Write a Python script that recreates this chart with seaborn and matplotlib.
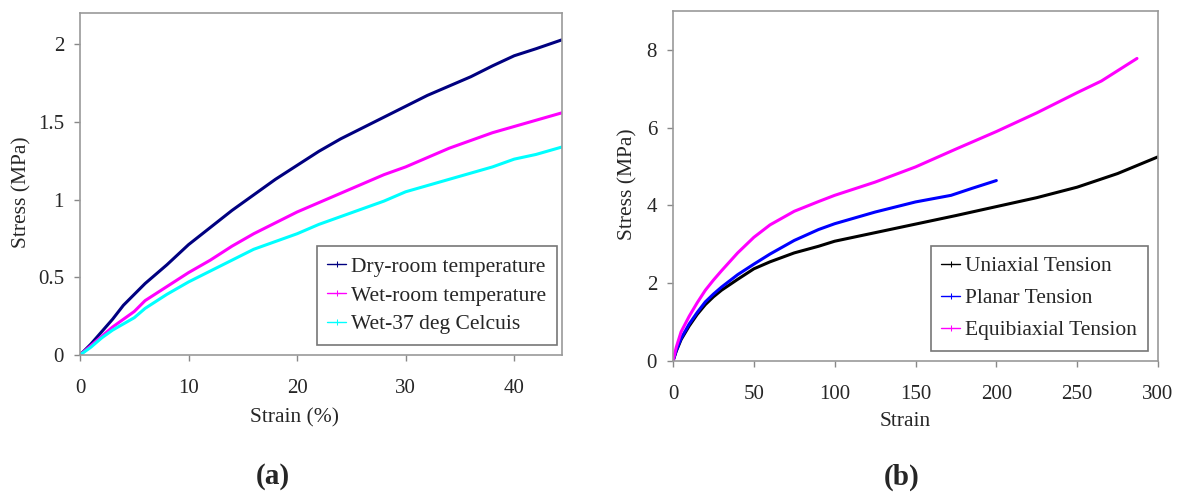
import numpy as np
import pandas as pd
import matplotlib
matplotlib.use("Agg")
import matplotlib.pyplot as plt
import seaborn as sns

# ---- data ----
strain_a = [0, 1, 2, 3, 4, 5, 6, 8, 10, 12, 14, 16, 18, 20, 22, 24, 26, 28, 30, 32, 34, 36, 38, 40, 42, 44.5]
dry_room = [0, 0.07, 0.15, 0.23, 0.32, 0.39, 0.46, 0.58, 0.71, 0.82, 0.93, 1.03, 1.13, 1.22, 1.31, 1.39, 1.46, 1.53, 1.60, 1.67, 1.73, 1.79, 1.86, 1.925, 1.97, 2.03]
wet_room = [0, 0.06, 0.12, 0.18, 0.23, 0.28, 0.35, 0.44, 0.53, 0.61, 0.70, 0.78, 0.85, 0.92, 0.98, 1.04, 1.10, 1.16, 1.21, 1.27, 1.33, 1.38, 1.43, 1.47, 1.51, 1.56]
wet_37 = [0, 0.05, 0.11, 0.16, 0.20, 0.24, 0.30, 0.39, 0.47, 0.54, 0.61, 0.68, 0.73, 0.78, 0.84, 0.89, 0.94, 0.99, 1.05, 1.09, 1.13, 1.17, 1.21, 1.26, 1.29, 1.34]
labels_a = ["Dry-room temperature", "Wet-room temperature", "Wet-37 deg Celcuis"]
colors_a = ["#000080", "#FF00FF", "#00FFFF"]

strain_uni = [0, 2, 5, 10, 15, 20, 25, 30, 40, 50, 60, 75, 90, 100, 125, 150, 175, 200, 225, 250, 275, 300]
uniaxial = [0, 0.25, 0.55, 0.9, 1.2, 1.45, 1.65, 1.82, 2.1, 2.37, 2.55, 2.78, 2.95, 3.08, 3.3, 3.52, 3.74, 3.97, 4.2, 4.47, 4.82, 5.25]
strain_pla = [0, 2, 5, 10, 15, 20, 25, 30, 40, 50, 60, 75, 90, 100, 125, 150, 172, 185, 200]
planar = [0, 0.27, 0.58, 0.95, 1.25, 1.52, 1.72, 1.9, 2.22, 2.49, 2.75, 3.1, 3.38, 3.53, 3.83, 4.09, 4.26, 4.44, 4.64]
strain_equ = [0, 2, 5, 10, 15, 20, 25, 30, 40, 50, 60, 75, 90, 100, 125, 150, 175, 200, 225, 250, 265, 287]
equibiaxial = [0, 0.35, 0.75, 1.15, 1.5, 1.82, 2.08, 2.32, 2.78, 3.18, 3.5, 3.85, 4.1, 4.26, 4.6, 4.99, 5.45, 5.9, 6.38, 6.9, 7.2, 7.78]
labels_b = ["Uniaxial Tension", "Planar Tension", "Equibiaxial Tension"]
colors_b = ["#000000", "#0000FF", "#FF00FF"]

sns.set_style("white")
plt.rcParams["font.family"] = ["Liberation Serif", "DejaVu Serif"]

df_a = pd.concat([
    pd.DataFrame({"Strain": strain_a, "Stress": y, "Series": lab})
    for y, lab in zip([dry_room, wet_room, wet_37], labels_a)
])
df_b = pd.concat([
    pd.DataFrame({"Strain": x, "Stress": y, "Series": lab})
    for x, y, lab in zip([strain_uni, strain_pla, strain_equ], [uniaxial, planar, equibiaxial], labels_b)
])

fig = plt.figure(figsize=(11.82, 4.92), dpi=100)
# left axes: x 80-562 px, y 13-355 px ; right axes: x 673-1158 px, y 11-361 px
ax1 = fig.add_axes([80 / 1182, 1 - 355 / 492, 482 / 1182, 342 / 492])
ax2 = fig.add_axes([673 / 1182, 1 - 361 / 492, 485 / 1182, 350 / 492])

sns.lineplot(data=df_a, x="Strain", y="Stress", hue="Series", palette=colors_a,
             hue_order=labels_a, ax=ax1, linewidth=2.2, sort=False)
sns.lineplot(data=df_b, x="Strain", y="Stress", hue="Series", palette=colors_b,
             hue_order=labels_b, ax=ax2, linewidth=2.2, sort=False)

ax1.set_xlim(0, 44.4)
ax1.set_ylim(0, 2.2)
ax1.set_xticks([0, 10, 20, 30, 40])
ax1.set_yticks([0, 0.5, 1, 1.5, 2])
ax1.set_yticklabels(["0", "0.5", "1", "1.5", "2"])
ax1.set_xlabel("Strain (%)", fontsize=15.5, va="center")
ax1.set_ylabel("Stress (MPa)", fontsize=15.5, va="center")
ax1.xaxis.set_label_coords(0.444, -0.184)
ax1.yaxis.set_label_coords(-0.121, 0.477)

ax2.set_xlim(0, 300)
ax2.set_ylim(0, 9)
ax2.set_xticks([0, 50, 100, 150, 200, 250, 300])
ax2.set_yticks([0, 2, 4, 6, 8])
ax2.set_xlabel("Strain", fontsize=15.5, va="center")
ax2.set_ylabel("Stress (MPa)", fontsize=15.5, va="center")
ax2.xaxis.set_label_coords(0.478, -0.174)
ax2.yaxis.set_label_coords(-0.094, 0.506)

for ax in (ax1, ax2):
    for sp in ax.spines.values():
        sp.set_color("#999999")
        sp.set_linewidth(1.2)
    ax.tick_params(axis="both", direction="out", length=4.5, width=1,
                   color="#888888", labelsize=15, bottom=True, left=True)
    ax.tick_params(axis="x", pad=13)
    ax.tick_params(axis="y", pad=7)

leg_kw = dict(loc="lower right", fontsize=15.5, frameon=True, fancybox=False,
              edgecolor="#555555", handlelength=0.85, handletextpad=0.25,
              borderpad=0.5, borderaxespad=0)
ax1.legend(bbox_to_anchor=(0.9896, 0.029), labelspacing=0.4, **leg_kw)
ax2.legend(bbox_to_anchor=(0.979, 0.0286), labelspacing=0.55, **leg_kw)
for leg in (ax1.get_legend(), ax2.get_legend()):
    leg.get_frame().set_linewidth(1.2)
    for h in leg.legend_handles:
        c = h.get_color()
        h.set_linewidth(1)
        h.set_marker("+")
        h.set_markersize(4)
        h.set_markeredgecolor(c)
        h.set_markerfacecolor(c)

fig.text(273 / 1182, 1 - 477 / 492, "(a)", ha="center", va="center",
         fontsize=21, fontweight="bold")
fig.text(902 / 1182, 1 - 477 / 492, "(b)", ha="center", va="center",
         fontsize=21, fontweight="bold")

fig.savefig("out.png", dpi=100)
